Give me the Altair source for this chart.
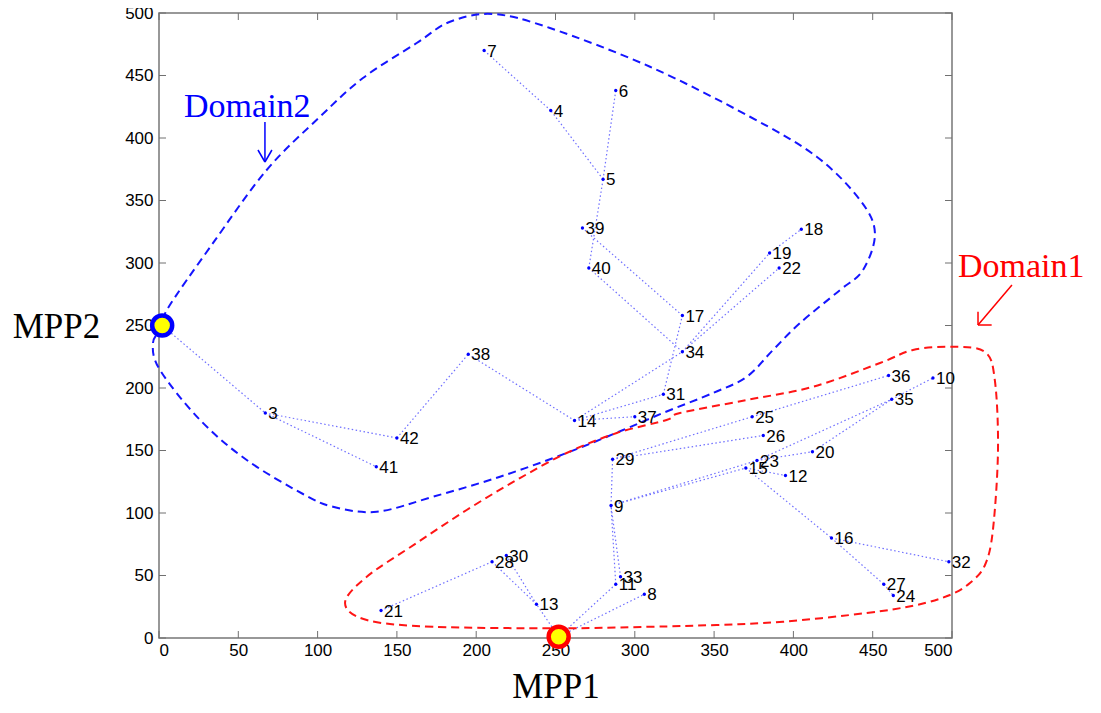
import altair as alt
import pandas as pd

# ---------------- data ----------------
node_id = [3, 4, 5, 6, 7, 8, 9, 10, 11, 12, 13, 14, 15, 16, 17, 18, 19, 20, 21, 22,
           23, 24, 25, 26, 27, 28, 29, 30, 31, 32, 33, 34, 35, 36, 37, 38, 39, 40, 41, 42]
node_x = [67, 247, 280, 288, 205, 306, 285, 488, 288, 395, 238, 262, 370, 424, 330, 405, 385, 412, 140, 391,
          377, 463, 374, 381, 457, 210, 286, 219, 318, 498, 291, 330, 462, 460, 300, 195, 267, 271, 137, 150]
node_y = [180, 422, 367, 438, 470, 35, 106, 208, 43, 130, 27, 174, 136, 80, 258, 327, 308, 149, 22, 296,
          142, 34, 177, 162, 43, 61, 143, 66, 195, 61, 49, 229, 191, 210, 177, 227, 328, 296, 137, 160]

mpp_name = ["MPP1", "MPP2"]
mpp_x = [252, 2]
mpp_y = [1, 250]
mpp_stroke = ["#ff0000", "#0000ff"]

edge_from = ["MPP2", 3, 3, 42, 38, 14, 14, 14, 31, 17, 34, 34, 34, 19, 40, 5, 4, 5,
             "MPP1", 13, 13, 28, "MPP1", "MPP1", 11, 33, 9, 29, 25, 29, 9, 9, 15, 15, 16, 16, 27, 23, 23, 20, 35]
edge_to = [3, 42, 41, 38, 14, 31, 37, 34, 17, 39, 40, 19, 22, 18, 5, 4, 7, 6,
           13, 28, 30, 21, 11, 8, 9, 9, 29, 25, 36, 26, 15, 23, 12, 16, 32, 27, 24, 20, 35, 35, 10]

# Domain2 boundary (blue dashed)
d2_x = [1.9, 5.7, 33.2, 67.9, 101.5, 128.6, 162.5, 183.5, 210.6, 246.5, 309.6, 372.6, 414.7, 442, 451.4,
        443.9, 429.4, 404.2, 387.1, 370.6, 349.3, 317.8, 292.6, 257, 215, 172.8, 137.3, 109.7, 90.8,
        55.3, 25.9, 0.6, -3.8]
d2_y = [248.8, 264, 314.4, 374.4, 417, 448, 476, 493, 499.2, 488, 457, 417, 385, 350.4, 324,
        294.4, 278.4, 252, 230.4, 209, 196, 180, 166.4, 148, 129, 113, 101, 105, 115.2,
        142.4, 174.4, 214.4, 236]

# Domain1 boundary (red dashed)
d1_x = [252.8, 172.8, 131, 117.3, 131, 162.5, 194, 225.5, 257, 288.6, 320, 328.5, 370.6, 412.4, 454.6,
        475.4, 500.6, 520.8, 527, 529, 525.8, 520.8, 511.3, 498.7, 477.7, 446.2, 393.4, 351.6, 309.6]
d1_y = [7.8, 9, 14.4, 28, 49, 76, 102.4, 126.4, 148, 164, 174.4, 180, 190.4, 201, 220,
        230.4, 233, 228.8, 206.4, 150.4, 86.4, 58.4, 44, 34.4, 26.4, 20, 13, 10.4, 9]

# annotation texts
ann_text = ["Domain2", "Domain1"]
ann_x = [15.8, 503.8]
ann_y = [416.8, 288.8]
ann_color = ["#0000ff", "#ff0000"]

# annotation arrows (shaft + two barbs each)
arr_x = [66.8, 66.8, 66.8, 537.8, 516.4, 516.4]
arr_y = [412.8, 380.8, 380.8, 282.4, 250.4, 250.4]
arr_x2 = [66.8, 62.4, 71.2, 516.4, 516.4, 525.0]
arr_y2 = [380.8, 390.4, 390.4, 250.4, 261.0, 250.4]
arr_color = ["#0000ff", "#0000ff", "#0000ff", "#ff0000", "#ff0000", "#ff0000"]

tick_vals = [0, 50, 100, 150, 200, 250, 300, 350, 400, 450, 500]

# ---------------- tables ----------------
W, H = 793, 625
nodes = pd.DataFrame({"id": node_id, "x": node_x, "y": node_y})
nodes["label"] = nodes["id"].astype(str)

pos = {i: (x, y) for i, x, y in zip(node_id, node_x, node_y)}
for n, x, y in zip(mpp_name, mpp_x, mpp_y):
    pos[n] = (x, y)
edges = pd.DataFrame({
    "x": [pos[a][0] for a in edge_from],
    "y": [pos[a][1] for a in edge_from],
    "x2": [pos[b][0] for b in edge_to],
    "y2": [pos[b][1] for b in edge_to],
})
mpp = pd.DataFrame({"name": mpp_name, "x": mpp_x, "y": mpp_y, "stroke": mpp_stroke})
d2 = pd.DataFrame({"x": d2_x, "y": d2_y, "i": range(len(d2_x))})
d1 = pd.DataFrame({"x": d1_x, "y": d1_y, "i": range(len(d1_x))})
ann = pd.DataFrame({"text": ann_text, "x": ann_x, "y": ann_y, "color": ann_color})
arr = pd.DataFrame({"x": arr_x, "y": arr_y, "x2": arr_x2, "y2": arr_y2, "color": arr_color})
ticks_df = pd.DataFrame({"x": tick_vals, "y": tick_vals})

xs = alt.Scale(domain=[0, 500], nice=False, zero=False)
ys = alt.Scale(domain=[0, 500], nice=False, zero=False)
xaxis = alt.Axis(values=tick_vals, grid=False, domain=False, ticks=False, tickSize=0,
                 labelFont="Liberation Sans", labelFontSize=17, labelColor="black", labelPadding=4,
                 title="MPP1", titleFont="Liberation Serif", titleFontSize=35, titleFontWeight="normal",
                 titleColor="black", titlePadding=11)
yaxis = alt.Axis(values=tick_vals, grid=False, domain=False, ticks=False, tickSize=0,
                 labelFont="Liberation Sans", labelFontSize=17, labelColor="black", labelPadding=6,
                 title="MPP2", titleFont="Liberation Serif", titleFontSize=35, titleFontWeight="normal",
                 titleColor="black", titleAngle=0, titleX=-103, titleY=313, titleAlign="center",
                 titleBaseline="middle")


def X(f="x"):
    return alt.X(f + ":Q", scale=xs, axis=xaxis)


def Y(f="y"):
    return alt.Y(f + ":Q", scale=ys, axis=yaxis)


edge_layer = alt.Chart(edges).mark_rule(color="#6f6fff", strokeWidth=1.2, strokeDash=[1.5, 2.5]).encode(
    x=X(), y=Y(), x2="x2:Q", y2="y2:Q")

d2_layer = alt.Chart(d2).mark_line(color="#1515ff", strokeWidth=2, strokeDash=[8, 5],
                                   interpolate="cardinal-closed").encode(x=X(), y=Y(), order="i:Q")
d1_layer = alt.Chart(d1).mark_line(color="#ff1515", strokeWidth=2, strokeDash=[8, 5],
                                   interpolate="cardinal-closed").encode(x=X(), y=Y(), order="i:Q")

dots = alt.Chart(nodes).mark_circle(color="#0000ff", size=11, opacity=1).encode(x=X(), y=Y())
labels = alt.Chart(nodes).mark_text(align="left", baseline="middle", dx=3, dy=1,
                                    font="Liberation Sans", fontSize=17, color="black").encode(
    x=X(), y=Y(), text="label:N")

mpp_layer = alt.Chart(mpp).mark_point(filled=False, fill="#ffff00", fillOpacity=1, size=400,
                                      strokeWidth=4.5, opacity=1, shape="circle").encode(
    x=X(), y=Y(), stroke=alt.Stroke("stroke:N", scale=None))

ann_layer = alt.Chart(ann).mark_text(align="left", baseline="alphabetic", font="Liberation Serif",
                                     fontSize=34).encode(x=X(), y=Y(), text="text:N",
                                                         color=alt.Color("color:N", scale=None))
arr_layer = alt.Chart(arr).mark_rule(strokeWidth=1.5).encode(
    x=X(), y=Y(), x2="x2:Q", y2="y2:Q", color=alt.Color("color:N", scale=None))

tick_style = dict(color="#707070", strokeWidth=1)
tb = alt.Chart(ticks_df).mark_rule(**tick_style).encode(x=X(), y=alt.value(H), y2=alt.value(H - 7))
tt = alt.Chart(ticks_df).mark_rule(**tick_style).encode(x=X(), y=alt.value(0), y2=alt.value(7))
tl = alt.Chart(ticks_df).mark_rule(**tick_style).encode(y=Y(), x=alt.value(0), x2=alt.value(7))
tr = alt.Chart(ticks_df).mark_rule(**tick_style).encode(y=Y(), x=alt.value(W), x2=alt.value(W - 7))

chart = alt.layer(tb, tt, tl, tr, edge_layer, d2_layer, d1_layer, dots, labels, mpp_layer,
                  ann_layer, arr_layer).properties(
    width=W, height=H,
    autosize=alt.AutoSizeParams(type="none"),
    padding={"left": 151, "top": 5, "right": 140, "bottom": 67},
    background="white",
).configure_view(stroke="#777777", strokeWidth=1.5)

chart.save("out.html", embed_options={"renderer": "svg", "actions": False})
